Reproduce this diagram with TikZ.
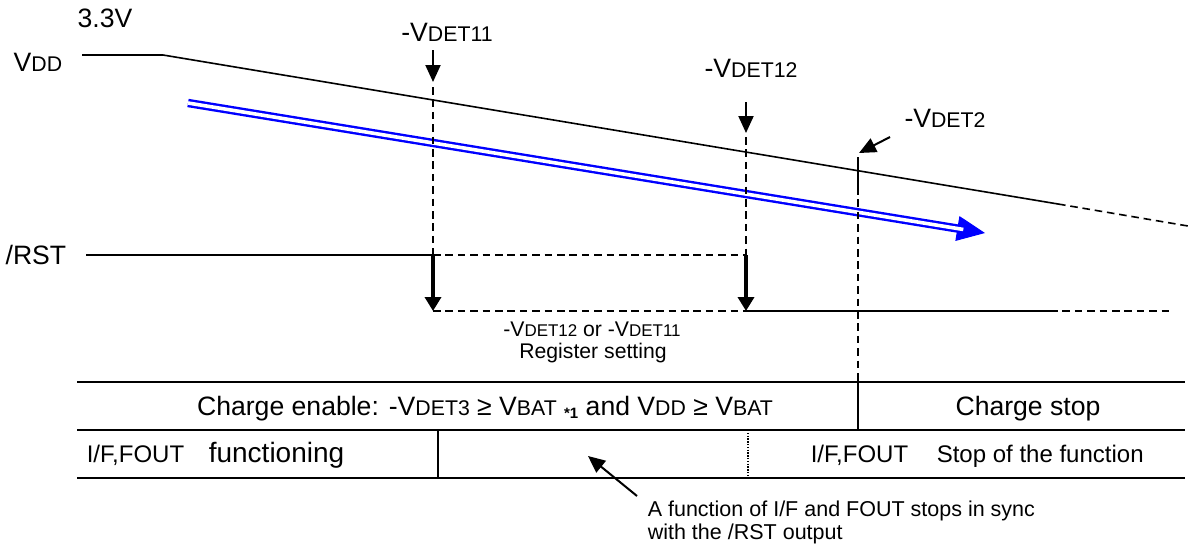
\documentclass[tikz,border=0pt]{standalone}
\usepackage{graphicx}
\usepackage{fontspec}
\setmainfont{Liberation Sans}
\usetikzlibrary{arrows.meta}

\newcommand\sm[1]{\scalebox{0.8}{#1}}
\newcommand\noteone{\raisebox{-1.5pt}{\fontsize{7.5}{7.5}\selectfont\bfseries *1}}

\begin{document}
\begin{tikzpicture}[x=0.5pt,y=-0.5pt,line width=0.8pt,
    txt/.style={inner sep=0pt,font=\fontsize{13.3}{15}\selectfont},
    txtm/.style={inner sep=0pt,font=\fontsize{12}{14}\selectfont},
    txts/.style={inner sep=0pt,font=\fontsize{10.6}{11.5}\selectfont},
    dsh/.style={dash pattern=on 3.8pt off 2.4pt},
    dot/.style={line width=0.7pt,dash pattern=on 0.7pt off 0.7pt},
    det/.style={line width=1pt,-{Triangle[length=8.5pt,width=7.5pt]}},
    fall/.style={line width=2pt,-{Triangle[length=7pt,width=8pt]}}]
  \useasboundingbox (0,0) rectangle (1188,547);

  % signal names and detect levels
  \path
  (105,18) node[txt](v33) {3.3V}
  (63,62) node[txt,anchor=east](vdd) {V\sm{DD}}
  (67,255) node[txt,anchor=east](rst) {/RST}
  (447,32) node[txt](det11) {-V\sm{DET11}}
  (751,68) node[txt](det12) {-V\sm{DET12}}
  (945,118) node[txt](det2) {-V\sm{DET2}}
  ;

  % VDD falling
  \path
  (82,55) coordinate(vdd0)
  (163,55) coordinate(vdd1)
  (1058,204) coordinate(vdd2)
  (1188,226) coordinate(vdd3)
  ;
  \draw (vdd0) -- (vdd1) -- (vdd2);
  \draw[dsh] (vdd2) -- (vdd3);

  % blue trend arrow
  \path
  (188,103) coordinate(bs)
  (985,233) coordinate(be)
  ;
  \draw[blue,line width=0.5pt,-{Triangle[length=14pt,width=12.5pt]}] (bs) -- (be);
  \draw[blue,line width=1.2pt,double=white,double distance=1.8pt,shorten >=11pt] (bs) -- (be);

  % detect points
  \path
  (433,50) coordinate(a11)
  (433,82) coordinate(b11)
  (433,87) coordinate(c11)
  (433,255) coordinate(h11)
  (433,311) coordinate(l11)
  (746,102) coordinate(a12)
  (746,133) coordinate(b12)
  (746,137) coordinate(c12)
  (746,255) coordinate(h12)
  (746,311) coordinate(l12)
  (890,137) coordinate(a2)
  (859,153) coordinate(b2)
  (858,157) coordinate(c2)
  (858,187) coordinate(d2)
  (858,382) coordinate(e2)
  (858,430) coordinate(f2)
  ;
  \draw[det] (a11) -- (b11);
  \draw[det] (a12) -- (b12);
  \draw[det] (a2) -- (b2);
  \draw[dsh] (c11) -- (h11);
  \draw[dsh] (c12) -- (h12);
  \draw (c2) -- (d2);
  \draw[dsh] (d2) -- (e2);

  % /RST
  \path
  (86,255) coordinate(rst0)
  (1050,311) coordinate(rst1)
  (1170,311) coordinate(rst2)
  ;
  \draw (rst0) -- (h11);
  \draw[dsh] (h11) -- (h12);
  \draw[dsh] (l11) -- (l12);
  \draw (l12) -- (rst1);
  \draw[dsh] (rst1) -- (rst2);
  \draw[fall] (h11) -- (l11);
  \draw[fall] (h12) -- (l12);

  \path
  (592,329) node[txts](reg1) {-V\sm{DET12} or -V\sm{DET11}}
  (593,353) node[txts](reg2) {Register setting}
  ;

  % table
  \foreach \y in {382,430,478}
    \draw (77,\y) -- (1185,\y);
  \draw (e2) -- (f2);
  \draw (438,430) -- (438,478);
  \draw[dot] (748,430) -- (748,478);

  \path
  (485,415) node[txt,anchor=base](chg) {Charge enable: -V\sm{DET3} ≥ V\sm{BAT} \noteone{} and V\sm{DD} ≥ V\sm{BAT}}
  (1028,415) node[txt,anchor=base](stop) {Charge stop}
  (86,462) node[txtm,anchor=base west](if1) {I/F,FOUT}
  (208,462) node[inner sep=0pt,font=\fontsize{14}{16}\selectfont,anchor=base west](fn) {functioning}
  (810,462) node[txtm,anchor=base west](if2) {I/F,FOUT}
  (936,462) node[txtm,anchor=base west](halt) {Stop of the function}
  ;

  % note
  \path
  (637,496) coordinate(ann0)
  (588,456) coordinate(ann1)
  (647,500) node[inner sep=0pt,font=\fontsize{10.75}{11.5}\selectfont,anchor=north west,align=left](note) {A function of I/F and FOUT stops in sync\\with the /RST output}
  ;
  \draw[det] (ann0) -- (ann1);
\end{tikzpicture}
\end{document}
